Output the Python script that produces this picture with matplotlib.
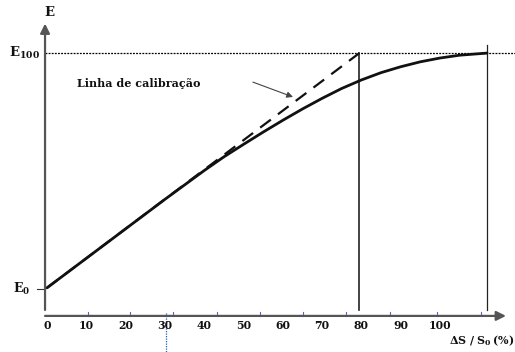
import matplotlib
matplotlib.use("Agg")
import matplotlib.pyplot as plt

# ── Data (schematic) ──
pct = [0, 10, 20, 30, 40, 45, 50, 55, 60, 65, 70, 75, 80, 85, 90, 95, 100, 105, 112]
resp = [0.5, 13, 25.5, 38, 50.2, 56.0, 61.3, 66.5, 71.5, 76.3, 80.8, 85.0,
        88.6, 91.7, 94.2, 96.3, 97.9, 99.1, 100]
calib_pct = [0, 79.5]
calib_resp = [0.5, 100]
tick_labels = [0, 10, 20, 30, 40, 50, 60, 70, 80, 90, 100]
tick_marks = [10.4, 21.1, 32.0, 43.2, 54.2, 65.1, 76.1, 87.3, 99.2, 110.4]
vlines = [79.5, 112]

plt.rcParams["mathtext.fontset"] = "dejavuserif"
FONT = dict(family="DejaVu Serif", fontweight="bold", color="#111111")

fig = plt.figure(figsize=(5.15, 3.52), dpi=100)
ax = fig.add_axes([0, 0, 1, 1])
ax.set_xlim(-11.96, 119.1)
ax.set_ylim(-26.7, 122.5)
ax.axis("off")

# axes with arrows
axis_col = "#555555"
ax.annotate("", xy=(-0.5, 112.5), xytext=(-0.5, -8.9),
            arrowprops=dict(arrowstyle="-|>", color=axis_col, lw=1.6,
                            mutation_scale=14, shrinkA=0, shrinkB=0))
ax.annotate("", xy=(116.8, -11.4), xytext=(-0.5, -11.4),
            arrowprops=dict(arrowstyle="-|>", color=axis_col, lw=1.6,
                            mutation_scale=14, shrinkA=0, shrinkB=0))

# E100 dotted reference line
ax.plot([-0.5, 119.1], [100, 100], color="black", lw=0.9, ls=(0, (1.5, 1)))
# E0 tick
ax.plot([-2.5, -0.5], [0, 0], color="#333333", lw=0.8)

# vertical guides
ax.plot([vlines[0], vlines[0]], [-8.9, 100], color="#222222", lw=1.2)
ax.plot([vlines[1], vlines[1]], [-8.9, 103.5], color="#222222", lw=0.9)

# calibration line and response curve
ax.plot(calib_pct, calib_resp, color="#111111", lw=1.6, ls=(0, (6, 4)))
ax.plot(pct, resp, color="#111111", lw=2.0, solid_capstyle="round",
        solid_joinstyle="round")

# x tick marks and labels
for t in tick_marks:
    ax.plot([t, t], [-11.4, -9.8], color="#6a5acd", lw=0.8)
for t in tick_labels:
    ax.text(t, -15.3, str(t), ha="center", va="center", fontsize=7.8, **FONT)

# blue dotted marker below axis
ax.plot([30.2, 30.2], [-10.2, -26.7], color="#1f5fbf", lw=0.9, ls=(0, (1, 1)))

# labels
ax.text(0.6, 117.3, "E", ha="center", va="center", fontsize=9.5, **FONT)
ax.text(-1.8, 100, r"$\mathbf{E}_{\mathbf{100}}$", ha="right", va="center",
        fontsize=9.5, color="#111111")
ax.text(-4.2, 0, r"$\mathbf{E}_{\mathbf{0}}$", ha="right", va="center",
        fontsize=9, color="#111111")
ax.text(119.0, -22.0, r"$\mathbf{\Delta S\ /\ S}_{\mathbf{0}}\,\mathbf{(\%)}$",
        ha="right", va="center", fontsize=8, color="#111111")

ax.text(7.6, 87.3, "Linha de calibração", ha="left", va="center",
        fontsize=8, **FONT)
ax.annotate("", xy=(62.6, 81.4), xytext=(52.4, 87.7),
            arrowprops=dict(arrowstyle="-|>", color="#444444", lw=0.8,
                            mutation_scale=9, shrinkA=0, shrinkB=0))

fig.savefig("out.png", dpi=100)
